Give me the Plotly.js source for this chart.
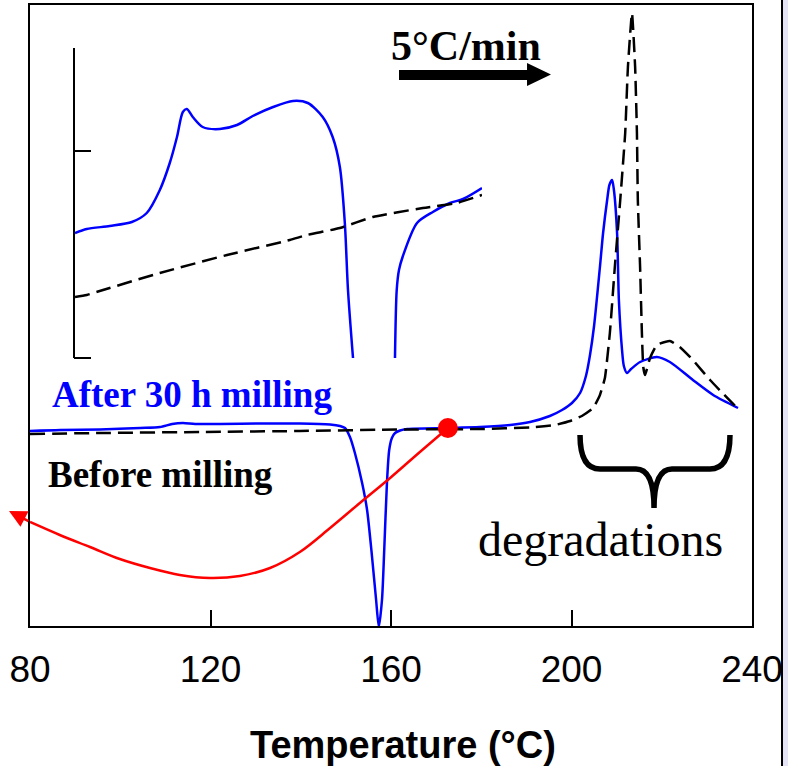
<!DOCTYPE html>
<html><head><meta charset="utf-8">
<script src="https://cdn.plot.ly/plotly-3.0.1.min.js"></script>
<style>html,body{margin:0;padding:0;background:#fff;}#chart{width:788px;height:766px;}</style>
</head><body><div id="chart"></div>
<script>
// ---- Main DSC curves: temperature (°C) vs heat flow (a.u.) ----
const tempAfter = [80.0, 86.7, 95.5, 104.4, 108.8, 111.5, 113.9, 116.6, 122.1, 131.0, 139.8, 146.5, 148.7, 149.8, 150.9, 152.0, 153.6, 154.7, 155.8, 156.7, 157.3, 158.0, 158.5, 159.1, 159.6, 160.2, 160.9, 162.0, 163.6, 172.6, 179.7, 186.4, 190.8, 195.2, 197.9, 200.1, 201.9, 203.2, 204.1, 205.0, 206.3, 207.0, 207.9, 208.4, 209.0, 209.4, 210.1, 210.5, 211.2, 211.6, 212.3, 213.2, 215.2, 218.9, 221.8, 226.9, 231.4, 236.9];
const heatAfter = [1.95, 1.96, 1.965, 1.98, 1.99, 2.02, 2.03, 2.02, 2.02, 2.025, 2.025, 2.015, 2.00, 1.98, 1.89, 1.73, 1.43, 1.16, 0.69, 0.26, -0.01, 0.26, 0.76, 1.43, 1.76, 1.88, 1.93, 1.955, 1.97, 1.98, 1.99, 2.01, 2.04, 2.10, 2.16, 2.23, 2.33, 2.50, 2.71, 3.00, 3.59, 3.93, 4.26, 4.41, 4.46, 4.36, 3.93, 3.26, 2.76, 2.60, 2.53, 2.57, 2.64, 2.69, 2.64, 2.46, 2.31, 2.18];
const tempBefore = [80.0, 95.5, 117.7, 139.8, 162.0, 179.7, 190.8, 196.3, 199.7, 202.3, 204.8, 206.3, 207.4, 208.5, 209.6, 210.8, 211.9, 212.5, 213.4, 214.1, 214.5, 214.7, 215.2, 215.6, 215.9, 216.3, 217.4, 218.9, 221.8, 224.0, 226.9, 230.7, 236.9];
const heatBefore = [1.92, 1.93, 1.94, 1.95, 1.965, 1.97, 1.985, 2.01, 2.05, 2.10, 2.18, 2.31, 2.48, 2.93, 3.59, 4.26, 4.93, 5.59, 6.13, 5.59, 4.93, 4.26, 3.59, 2.93, 2.59, 2.51, 2.68, 2.81, 2.85, 2.79, 2.66, 2.46, 2.17];

// ---- Inset (magnified heat flow, 90–180 °C) ----
const insetTempAfter = [90.0, 92.6, 97.7, 102.6, 105.9, 108.8, 111.0, 112.6, 113.9, 114.8, 116.1, 118.3, 122.1, 125.9, 129.4, 133.9, 138.3, 141.6, 144.9, 147.1, 148.7, 149.8, 150.5, 151.7, 157.3, 160.9, 161.3, 161.8, 162.6, 165.8, 169.3, 173.1, 176.0, 180.2];
const insetHeatAfter = [1.25, 1.29, 1.32, 1.36, 1.45, 1.68, 1.95, 2.21, 2.46, 2.49, 2.41, 2.31, 2.29, 2.33, 2.42, 2.51, 2.57, 2.55, 2.41, 2.21, 1.91, 1.35, 0.68, -0.05, null, -0.05, 0.68, 0.88, 1.01, 1.35, 1.46, 1.55, 1.59, 1.70];
const insetTempBefore = [90.0, 92.6, 96.2, 108.8, 123.7, 137.6, 141.4, 148.7, 156.0, 167.1, 174.6, 180.2];
const insetHeatBefore = [0.61, 0.63, 0.68, 0.85, 1.03, 1.18, 1.23, 1.30, 1.41, 1.50, 1.55, 1.63];

// ---- Red guide curve and marked point ----
const guideTemp = [80.0, 86.6, 93.3, 99.9, 106.6, 113.2, 119.9, 126.5, 133.2, 139.8, 146.5, 153.1, 159.8, 166.4, 172.6];
const guideHeat = [1.04, 0.91, 0.79, 0.67, 0.58, 0.51, 0.48, 0.50, 0.58, 0.74, 0.98, 1.23, 1.48, 1.74, 1.98];
const markTemp = [172.6];
const markHeat = [1.98];

const tickTemps = [80, 120, 160, 200, 240];
const tickLabels = ['80', '120', '160', '200', '240'];
const insetTicks = [2.07];

// pixel -> paper helpers for decorations only
const PL = 30, PT = 5, PW = 722, PH = 621;
const X = px => (px - PL) / PW;
const Y = py => (PT + PH - py) / PH;
const P = (px, py) => X(px).toFixed(4) + ',' + Y(py).toFixed(4);

const SERIF = 'Liberation Serif, Times New Roman, serif';
const SANS = 'Liberation Sans, Arial, sans-serif';
const DASH = '15px,7px';

const traces = [
  {x: tempAfter, y: heatAfter, mode: 'lines', line: {color: '#0000ff', width: 2.5, shape: 'spline', smoothing: 0.7}, hoverinfo: 'skip'},
  {x: tempBefore, y: heatBefore, mode: 'lines', line: {color: '#000', width: 2.5, dash: DASH, shape: 'spline', smoothing: 0.4}, hoverinfo: 'skip'},
  {x: insetTempAfter, y: insetHeatAfter, xaxis: 'x2', yaxis: 'y2', mode: 'lines', connectgaps: false, line: {color: '#0000ff', width: 2.5, shape: 'spline', smoothing: 0.8}, hoverinfo: 'skip'},
  {x: insetTempBefore, y: insetHeatBefore, xaxis: 'x2', yaxis: 'y2', mode: 'lines', line: {color: '#000', width: 2.5, dash: DASH, shape: 'spline', smoothing: 0.5}, hoverinfo: 'skip'},
  {x: guideTemp, y: guideHeat, mode: 'lines', line: {color: '#ff0000', width: 2.5, shape: 'spline', smoothing: 1}, hoverinfo: 'skip'},
  {x: markTemp, y: markHeat, mode: 'markers', marker: {color: '#ff0000', size: 20}, cliponaxis: false, hoverinfo: 'skip'}
];

const layout = {
  width: 788, height: 766,
  margin: {l: PL, r: 788 - PL - PW, t: PT, b: 766 - PT - PH},
  paper_bgcolor: '#fff', plot_bgcolor: '#fff',
  showlegend: false,
  xaxis: {
    range: [80, 240], tickvals: tickTemps, ticktext: tickLabels,
    ticks: 'inside', ticklen: 16, tickwidth: 2, tickcolor: '#000',
    ticklabelstandoff: 10,
    showline: true, linewidth: 2, linecolor: '#000', mirror: true,
    showgrid: false, zeroline: false,
    tickfont: {family: SANS, size: 37, color: '#000'}
  },
  yaxis: {
    range: [0, 6.21], showticklabels: false, ticks: '',
    showline: true, linewidth: 2, linecolor: '#000', mirror: true,
    showgrid: false, zeroline: false
  },
  xaxis2: {
    domain: [X(75), X(482)], range: [90, 180.2], anchor: 'y2', visible: false
  },
  yaxis2: {
    domain: [Y(358), Y(48)], range: [0, 3.10], anchor: 'x2',
    showline: true, linewidth: 2, linecolor: '#000',
    ticks: 'inside', ticklen: 16, tickwidth: 2, tickcolor: '#000',
    tickvals: insetTicks, showticklabels: false,
    showgrid: false, zeroline: false
  },
  shapes: [
    // bottom tick of the inset axis
    {type: 'line', xref: 'paper', yref: 'paper', layer: 'above',
     x0: X(74), x1: X(91), y0: Y(358), y1: Y(358), line: {color: '#000', width: 2}},
    // heating-rate arrow
    {type: 'path', xref: 'paper', yref: 'paper', layer: 'above',
     path: 'M ' + P(399, 70) + ' L ' + P(527, 70) + ' L ' + P(527, 63) + ' L ' + P(551, 74.5) + ' L ' + P(527, 86) + ' L ' + P(527, 80) + ' L ' + P(399, 80) + ' Z',
     fillcolor: '#000', line: {width: 0}},
    // brace over degradation region
    {type: 'path', xref: 'paper', yref: 'paper', layer: 'above',
     path: 'M ' + P(580, 435) + ' Q ' + P(580, 469) + ' ' + P(600, 469) + ' L ' + P(636, 469) + ' Q ' + P(654, 469) + ' ' + P(654, 508) + ' Q ' + P(654, 469) + ' ' + P(672, 469) + ' L ' + P(710, 469) + ' Q ' + P(730, 469) + ' ' + P(730, 435),
     line: {color: '#000', width: 5.5}},
    // right page border
    {type: 'rect', xref: 'paper', yref: 'paper', layer: 'above',
     x0: X(782), x1: X(790), y0: Y(770), y1: Y(-5), fillcolor: '#e4e4f6', line: {width: 0}},
    {type: 'line', xref: 'paper', yref: 'paper', layer: 'above',
     x0: X(782), x1: X(782), y0: Y(770), y1: Y(-5), line: {color: '#000', width: 2}}
  ],
  annotations: [
    {xref: 'paper', yref: 'paper', x: X(389), y: Y(46), xanchor: 'left', yanchor: 'middle', showarrow: false,
     text: '<b>5°C/min</b>', font: {family: SERIF, size: 42, color: '#000'}},
    {xref: 'paper', yref: 'paper', x: X(50), y: Y(394), xanchor: 'left', yanchor: 'middle', showarrow: false,
     text: '<b>After 30 h milling</b>', font: {family: SERIF, size: 37, color: '#0000ff'}},
    {xref: 'paper', yref: 'paper', x: X(46), y: Y(474), xanchor: 'left', yanchor: 'middle', showarrow: false,
     text: '<b>Before milling</b>', font: {family: SERIF, size: 37, color: '#000'}},
    {xref: 'paper', yref: 'paper', x: X(600), y: Y(539), xanchor: 'center', yanchor: 'middle', showarrow: false,
     text: 'degradations', font: {family: SERIF, size: 48, color: '#000'}},
    {xref: 'paper', yref: 'paper', x: X(403), y: Y(745), xanchor: 'center', yanchor: 'middle', showarrow: false,
     text: '<b>Temperature (°C)</b>', font: {family: SANS, size: 38, color: '#000'}},
    // red arrowhead continuing the guide curve outside the frame
    {xref: 'paper', yref: 'paper', x: X(9), y: Y(511), ax: 21, ay: 11, text: '', showarrow: true,
     arrowhead: 2, arrowsize: 1.4, arrowwidth: 2.5, arrowcolor: '#ff0000', standoff: 0, startstandoff: 0}
  ]
};

Plotly.newPlot('chart', traces, layout, {staticPlot: true, displayModeBar: false});
</script>
</body></html>
